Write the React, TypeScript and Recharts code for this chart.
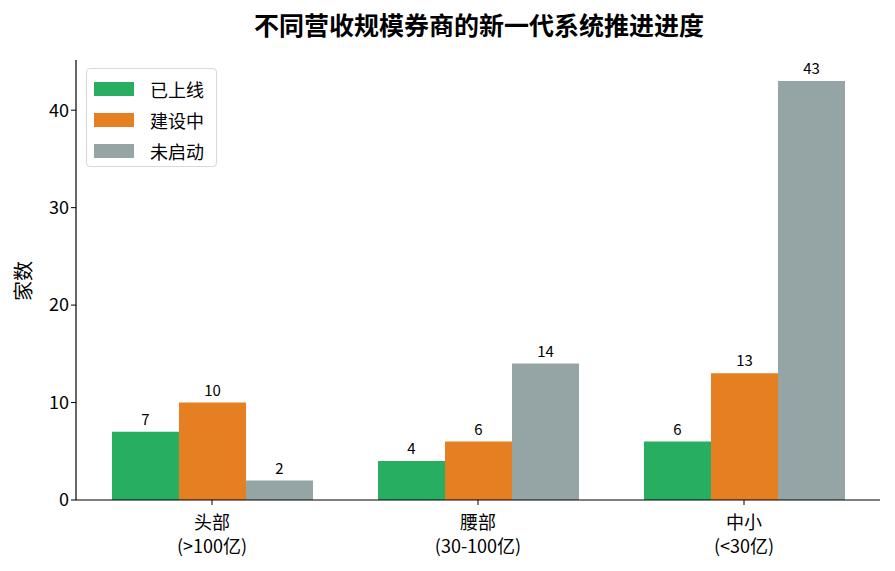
import { BarChart, Bar, XAxis, YAxis, LabelList } from 'recharts';

const categories = ['头部\n(>100亿)', '腰部\n(30-100亿)', '中小\n(<30亿)'];
const online = [7, 4, 6];
const building = [10, 6, 13];
const notStarted = [2, 14, 43];
const yTicks = [0, 10, 20, 30, 40];

const series = [
  { key: 'online', name: '已上线', color: '#27ae60' },
  { key: 'building', name: '建设中', color: '#e67e22' },
  { key: 'notStarted', name: '未启动', color: '#95a5a6' },
];

const data = categories.map((c, i) => ({
  category: c,
  online: online[i],
  building: building[i],
  notStarted: notStarted[i],
}));

const FONT = '"Noto Sans CJK SC", "Noto Sans", sans-serif';

function CategoryTick(props: any) {
  const { x, y, payload } = props;
  const lines = String(payload.value).split('\n');
  return (
    <text x={x} y={y + 5} textAnchor="middle" fontSize={18} fill="#000" fontFamily={FONT}>
      {lines.map((l, i) => (
        <tspan key={i} x={x} dy={i === 0 ? 17 : 24}>
          {l}
        </tspan>
      ))}
    </text>
  );
}

function LegendBox() {
  return (
    <div
      style={{
        position: 'absolute',
        left: 86,
        top: 68,
        width: 131,
        height: 99,
        boxSizing: 'border-box',
        border: '1px solid #d9d9d9',
        borderRadius: 4,
        background: 'rgba(255,255,255,0.85)',
        padding: '4px 0 0 7px',
        fontFamily: FONT,
        fontSize: 18,
        zIndex: 2,
      }}
    >
      {series.map((s) => (
        <div key={s.key} style={{ display: 'flex', alignItems: 'center', height: 31 }}>
          <span style={{ width: 40, height: 14, background: s.color, display: 'inline-block', marginRight: 16 }} />
          <span>{s.name}</span>
        </div>
      ))}
    </div>
  );
}

export default function App() {
  return (
    <div style={{ position: 'absolute', left: 0, top: 0, width: 895, height: 571, background: '#fff', fontFamily: FONT }}>
      <div
        style={{
          position: 'absolute',
          left: 79,
          width: 800,
          top: 6,
          textAlign: 'center',
          fontSize: 25,
          lineHeight: '36px',
          fontWeight: 'bold',
        }}
      >
        不同营收规模券商的新一代系统推进进度
      </div>
      <div
        style={{
          position: 'absolute',
          left: 22,
          top: 281,
          transform: 'translate(-50%, -50%) rotate(-90deg)',
          fontSize: 20,
          whiteSpace: 'nowrap',
        }}
      >
        家数
      </div>
      <LegendBox />
      <BarChart
        width={895}
        height={571}
        data={data}
        margin={{ top: 60, right: 15, left: 0, bottom: 11 }}
        barCategoryGap={33}
        barGap={0}
      >
        <XAxis
          dataKey="category"
          tick={<CategoryTick />}
          tickLine={{ stroke: '#000' }}
          axisLine={{ stroke: '#000', strokeWidth: 1.2 }}
          tickSize={5}
          height={60}
          interval={0}
          padding={{ left: 3, right: 3 }}
        />
        <YAxis
          domain={[0, 45.15]}
          ticks={yTicks}
          width={76}
          tickSize={5}
          tick={{ fontSize: 18, fill: '#000', fontFamily: FONT }}
          tickLine={{ stroke: '#000' }}
          axisLine={{ stroke: '#000', strokeWidth: 1.2 }}
          allowDataOverflow
        />
        {series.map((s) => (
          <Bar key={s.key} dataKey={s.key} name={s.name} fill={s.color} isAnimationActive={false}>
            <LabelList dataKey={s.key} position="top" offset={7} fontSize={15} fill="#000" fontFamily={FONT} />
          </Bar>
        ))}
      </BarChart>
    </div>
  );
}
